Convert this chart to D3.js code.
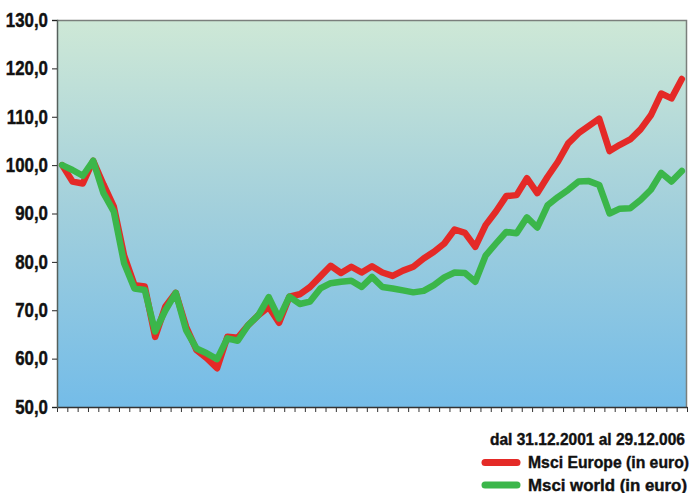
<!DOCTYPE html>
<html>
<head>
<meta charset="utf-8">
<script src="https://cdn.jsdelivr.net/npm/d3@7"></script>
<style>
  body { margin: 0; background: #fff; }
  svg { display: block; }
  text { font-family: "Liberation Sans", Arial, sans-serif; font-weight: bold; fill: #111; stroke: #111; stroke-width: 0.4px; }
</style>
</head>
<body>
<svg class="chart"></svg>
<script>
// monthly values, 31.12.2001 -> 29.12.2006 (base 100)
let europe = [100, 96.6, 96.2, 100.9, 96.0, 91.4, 81.3, 75.2, 74.9, 64.5,
  70.8, 73.6, 66.6, 61.8, 60.1, 58.0, 64.5, 64.3, 66.9, 69.0,
  70.7, 67.4, 72.8, 73.3, 74.8, 77.0, 79.2, 77.7, 79.0, 77.8,
  79.1, 77.8, 77.1, 78.2, 79.0, 80.7, 82.1, 83.8, 86.7, 86.0,
  83.1, 87.6, 90.4, 93.6, 93.8, 97.3, 94.2, 97.6, 100.7, 104.5,
  106.6, 108.1, 109.6, 102.9, 104.2, 105.3, 107.4, 110.3, 114.8, 113.8,
  117.8];

let world = [100, 99.0, 97.8, 100.9, 94.2, 90.4, 79.7, 74.5, 74.2, 65.6,
  70.0, 73.6, 65.9, 62.1, 61.1, 59.9, 64.2, 63.7, 66.9, 69.0,
  72.7, 68.3, 72.8, 71.3, 71.8, 74.5, 75.6, 75.9, 76.1, 74.8,
  76.9, 74.8, 74.5, 74.1, 73.7, 74.0, 75.2, 76.8, 77.8, 77.7,
  75.9, 81.3, 83.8, 86.2, 85.9, 89.2, 87.1, 91.7, 93.4, 94.9,
  96.6, 96.7, 95.9, 90.0, 91.0, 91.1, 92.8, 94.9, 98.4, 96.6,
  98.8];

let yTicks = [50, 60, 70, 80, 90, 100, 110, 120, 130];
let period = 'dal 31.12.2001 al 29.12.006';
let seriesNames = ['Msci Europe (in euro)', 'Msci world (in euro)'];
let colorGroup = ['#e42a27', '#3bb64a'];

let svg_width = 694;
let svg_height = 493;
let margin_left = 57;
let margin_top = 20;
let chart_width = 630;
let chart_height = 387;

let svg = d3.select('.chart')
  .attr('width', svg_width)
  .attr('height', svg_height);

// background gradient
let grad = svg.append('defs').append('linearGradient')
  .attr('id', 'bg')
  .attr('x1', 0).attr('y1', 0).attr('x2', 0).attr('y2', 1);
grad.append('stop').attr('offset', '0%').attr('stop-color', '#cee8d6');
grad.append('stop').attr('offset', '50%').attr('stop-color', '#a1cfdc');
grad.append('stop').attr('offset', '100%').attr('stop-color', '#74bce8');

//scales
let scaleX = d3.scaleBand()
  .domain(d3.range(europe.length))
  .range([margin_left, margin_left + chart_width])
  .padding(0);

let scaleTick = d3.scaleLinear()
  .domain([0, europe.length])
  .range([margin_left, margin_left + chart_width]);

let scaleY = d3.scaleLinear()
  .domain([50, 130])
  .range([margin_top + chart_height, margin_top]);

svg.append('rect')
  .attr('x', margin_left)
  .attr('y', margin_top)
  .attr('width', chart_width)
  .attr('height', chart_height)
  .attr('fill', 'url(#bg)');

// frame top / right
svg.append('path')
  .attr('d', 'M' + margin_left + ',' + (margin_top + 0.5) + 'H' + (margin_left + chart_width - 0.5) + 'V' + (margin_top + chart_height))
  .attr('fill', 'none')
  .attr('stroke', '#7b7f7c')
  .attr('stroke-width', 1.5);

//axis
let axisY = d3.axisLeft(scaleY)
  .tickValues(yTicks)
  .tickSize(5)
  .tickPadding(4)
  .tickFormat(d => d3.format('.1f')(d).replace('.', ','));

let axisX = d3.axisBottom(scaleTick)
  .tickValues(d3.range(europe.length + 1))
  .tickSize(5)
  .tickSizeOuter(0)
  .tickFormat('');

svg.append('g')
  .attr('transform', translate(0, margin_top + chart_height))
  .attr('class', 'x-axis')
  .call(axisX)
  .call(g => {
    g.select('.domain').attr('stroke', '#333').attr('stroke-width', 1.5);
    g.selectAll('.tick line').attr('stroke', '#333');
  });

svg.append('g')
  .attr('transform', translate(margin_left, 0))
  .attr('class', 'y-axis')
  .call(axisY)
  .call(g => {
    g.select('.domain').attr('stroke', '#55605c').attr('stroke-width', 1.5);
    g.selectAll('.tick line').attr('stroke', '#222');
    g.selectAll('.tick text')
      .attr('font-family', null)
      .attr('font-size', 19.5)
      .style('font-weight', 'bold')
      .attr('fill', '#111')
      .call(condense, 0.865);
  });

// lines
let line = d3.line()
  .x((d, i) => scaleX(i) + scaleX.bandwidth() / 2)
  .y(d => scaleY(d));

[europe, world].forEach((s, k) => {
  svg.append('path')
    .datum(s)
    .attr('d', line)
    .attr('fill', 'none')
    .attr('stroke', colorGroup[k])
    .attr('stroke-width', 6.5)
    .attr('stroke-linejoin', 'round')
    .attr('stroke-linecap', 'round');
});

// legend (right-anchored so text never runs past the edge)
svg.append('text')
  .attr('x', 685)
  .attr('y', 445)
  .attr('text-anchor', 'end')
  .attr('font-size', 16.5)
  .attr('textLength', 195)
  .attr('lengthAdjust', 'spacingAndGlyphs')
  .text(period);

seriesNames.forEach((name, k) => {
  let y = 462.5 + k * 22.5;
  let w = k === 0 ? 161 : 159;
  svg.append('line')
    .attr('x1', 485).attr('x2', 517)
    .attr('y1', y).attr('y2', y)
    .attr('stroke', colorGroup[k])
    .attr('stroke-width', 7)
    .attr('stroke-linecap', 'round');
  svg.append('text')
    .attr('x', 528 + w)
    .attr('y', y + 5.5)
    .attr('text-anchor', 'end')
    .attr('font-size', 16.5)
    .attr('textLength', w)
    .attr('lengthAdjust', 'spacingAndGlyphs')
    .text(name);
});

function condense(sel, f) {
  sel.each(function() {
    let w = this.getComputedTextLength();
    d3.select(this)
      .attr('textLength', w * f)
      .attr('lengthAdjust', 'spacingAndGlyphs');
  });
}

function translate(x, y) {
  return 'translate(' + x + ',' + y + ')';
}
</script>
</body>
</html>
